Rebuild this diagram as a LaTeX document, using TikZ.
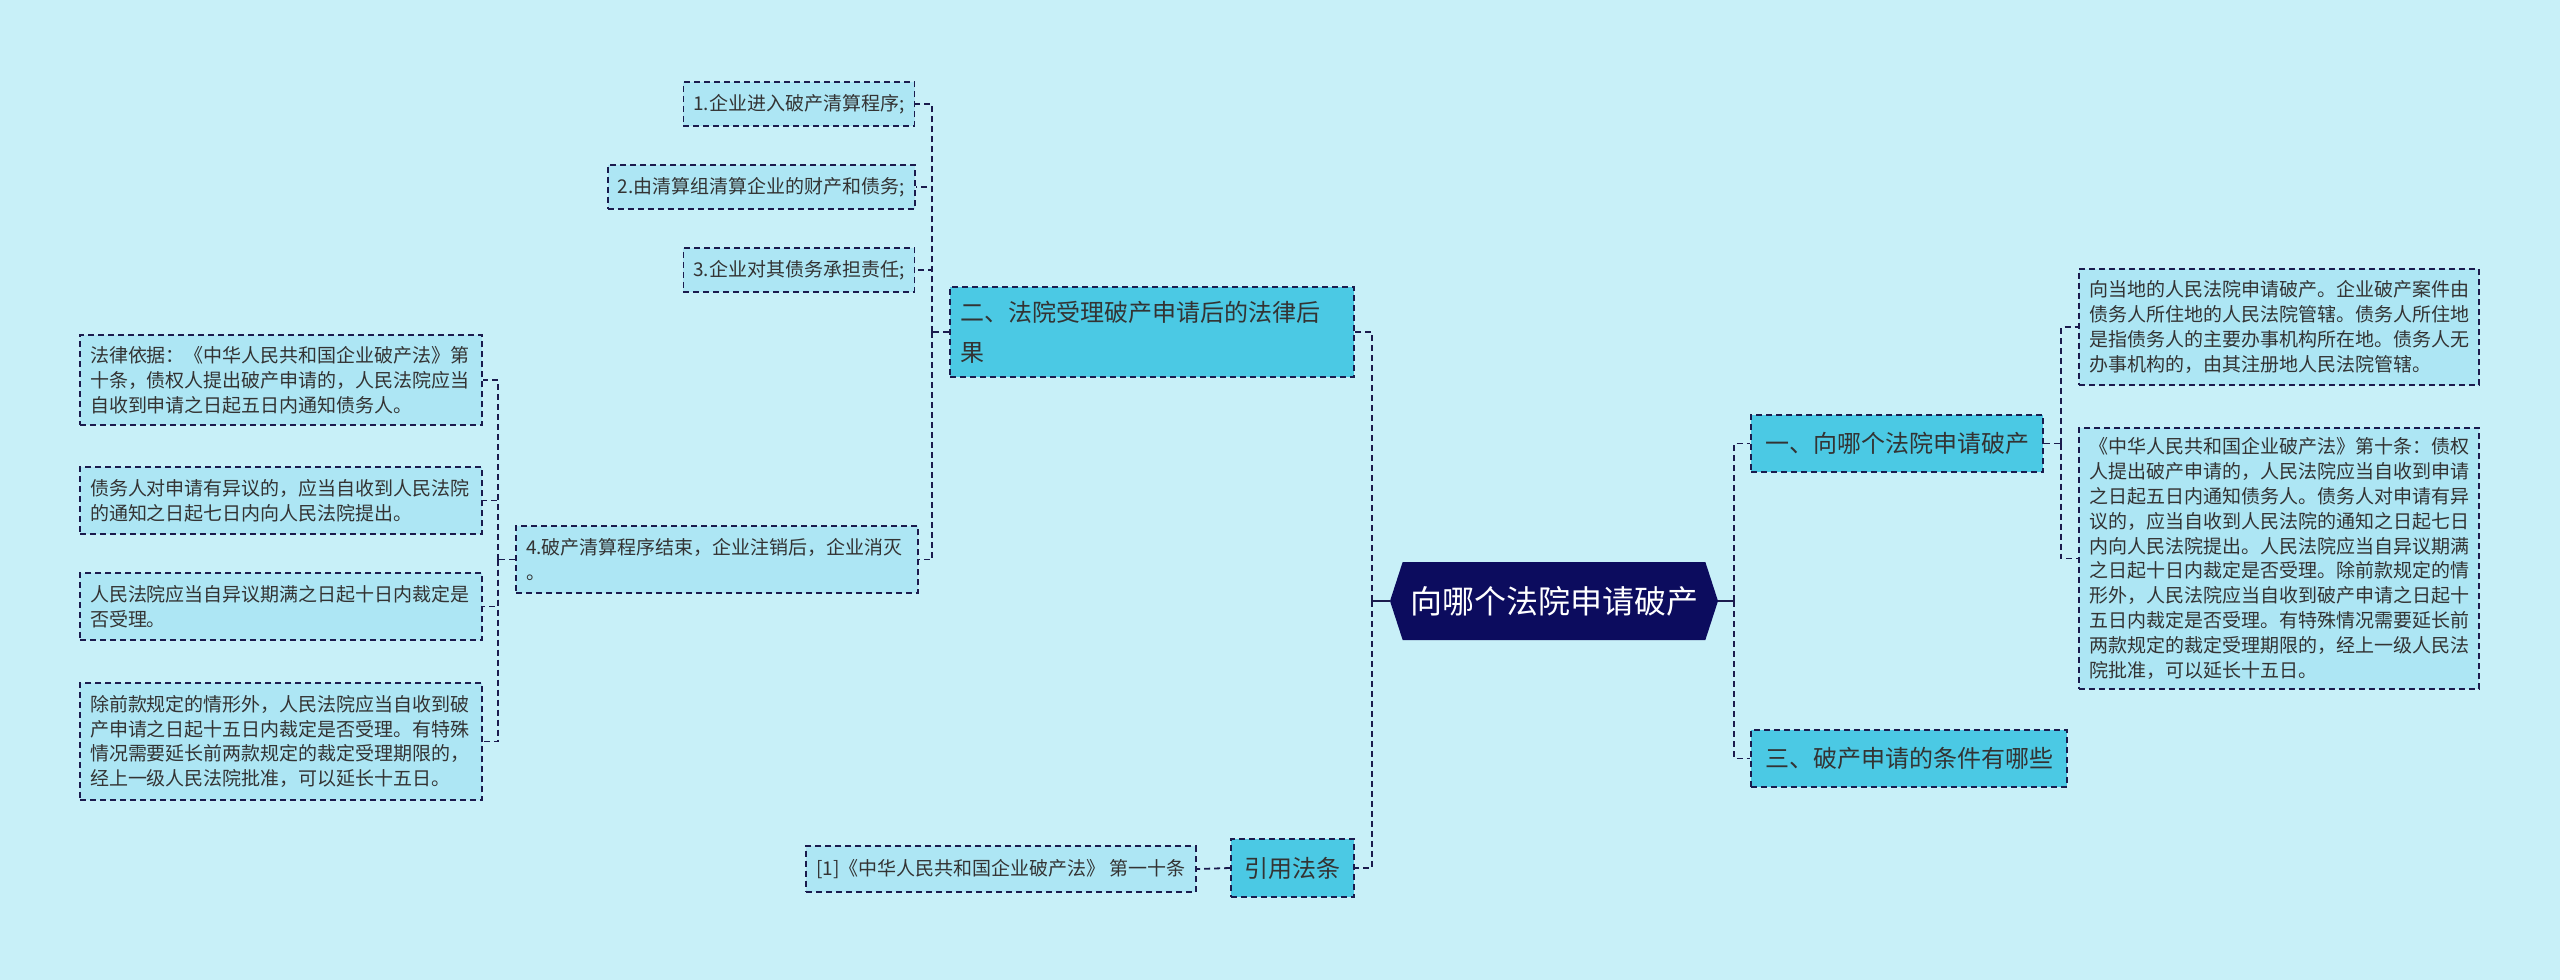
\documentclass[tikz,border=0pt]{standalone}
\usepackage{fontspec}
\newfontfamily\cjk{Noto Sans CJK SC}
\usetikzlibrary{shapes.symbols}
\definecolor{bgcyan}{HTML}{C8F0F8}
\definecolor{leafcyan}{HTML}{ADE6F4}
\definecolor{topiccyan}{HTML}{4BC9E4}
\definecolor{rootnavy}{HTML}{0C0C5E}
\definecolor{linknavy}{HTML}{1B1B4D}
\definecolor{txtgray}{HTML}{333333}

\begin{document}
\begin{tikzpicture}[x=0.5pt, y=-0.5pt,
  box/.style={draw=linknavy, line width=0.9pt, dash pattern=on 3pt off 2pt,
    inner xsep=5pt, inner ysep=0pt, align=left},
  leaf/.style={box, fill=leafcyan, text=txtgray,
    font=\cjk\fontsize{9.5}{12.4}\selectfont},
  topic/.style={box, fill=topiccyan, text=black!80,
    font=\cjk\fontsize{12}{20}\selectfont},
  root/.style={signal, signal to=west and east, signal pointer angle=144,
    fill=rootnavy, text=white, font=\cjk\fontsize{16}{20}\selectfont,
    minimum width=164pt, minimum height=39pt, inner xsep=2pt},
  link/.style={draw=linknavy, line width=0.9pt, dash pattern=on 3pt off 2pt},
  stub/.style={draw=linknavy, line width=1.1pt}
]
  \fill[bgcyan] (0,0) rectangle (2560,980);
  \useasboundingbox (0,0) rectangle (2560,980);

  % centre
  \node[root] (root) at (1554,601) {向哪个法院申请破产};

  % left side
  \node[topic, minimum width=202pt, minimum height=45pt, text width=192pt]
    (fx) at (1152,332) {二、法院受理破产申请后的法律后\\果};
  \node[topic, minimum width=61.5pt, minimum height=29pt]
    (yy) at (1292.5,868) {引用法条};
  \node[leaf, minimum width=194pt, minimum height=23pt]
    (ref) at (1001,869) {[1]《中华人民共和国企业破产法》 第一十条};

  \node[leaf, minimum width=115pt, minimum height=22pt]
    (s1) at (799,104) {1.企业进入破产清算程序;};
  \node[leaf, minimum width=152.5pt, minimum height=22pt]
    (s2) at (761.5,187) {2.由清算组清算企业的财产和债务;};
  \node[leaf, minimum width=115pt, minimum height=22pt]
    (s3) at (799,270) {3.企业对其债务承担责任;};
  \node[leaf, minimum width=201pt, minimum height=33.5pt, text width=191pt]
    (s4) at (717,559.5) {4.破产清算程序结束，企业注销后，企业消灭\\。};

  \node[leaf, minimum width=201pt, minimum height=45pt, text width=191pt]
    (j1) at (281,380) {法律依据：《中华人民共和国企业破产法》第\\十条，债权人提出破产申请的，人民法院应当\\自收到申请之日起五日内通知债务人。};
  \node[leaf, minimum width=201pt, minimum height=33.5pt, text width=191pt]
    (j2) at (281,500.5) {债务人对申请有异议的，应当自收到人民法院\\的通知之日起七日内向人民法院提出。};
  \node[leaf, minimum width=201pt, minimum height=33.5pt, text width=191pt]
    (j3) at (281,606.5) {人民法院应当自异议期满之日起十日内裁定是\\否受理。};
  \node[leaf, minimum width=201pt, minimum height=58.5pt, text width=191pt]
    (j4) at (281,741.5) {除前款规定的情形外，人民法院应当自收到破\\产申请之日起十五日内裁定是否受理。有特殊\\情况需要延长前两款规定的裁定受理期限的，\\经上一级人民法院批准，可以延长十五日。};

  % right side
  \node[topic, minimum width=146pt, minimum height=28.5pt]
    (yi) at (1897,443.5) {一、向哪个法院申请破产};
  \node[topic, minimum width=158pt, minimum height=28.5pt]
    (san) at (1909,758.5) {三、破产申请的条件有哪些};
  \node[leaf, minimum width=200pt, minimum height=58pt, text width=190pt]
    (r1) at (2279,327) {向当地的人民法院申请破产。企业破产案件由\\债务人所住地的人民法院管辖。债务人所住地\\是指债务人的主要办事机构所在地。债务人无\\办事机构的，由其注册地人民法院管辖。};
  \node[leaf, minimum width=200pt, minimum height=130.5pt, text width=190pt]
    (r2) at (2279,558.5) {《中华人民共和国企业破产法》第十条：债权\\人提出破产申请的，人民法院应当自收到申请\\之日起五日内通知债务人。债务人对申请有异\\议的，应当自收到人民法院的通知之日起七日\\内向人民法院提出。人民法院应当自异议期满\\之日起十日内裁定是否受理。除前款规定的情\\形外，人民法院应当自收到破产申请之日起十\\五日内裁定是否受理。有特殊情况需要延长前\\两款规定的裁定受理期限的，经上一级人民法\\院批准，可以延长十五日。};

  % spines
  \coordinate (lsp) at (1372,601);
  \coordinate (rsp) at (1734,601);
  \coordinate (fsp) at (932,332);
  \coordinate (ssp) at (498,559.5);
  \coordinate (ysp) at (2061,443.5);

  \draw[stub] (root.west) -- (lsp);
  \draw[stub] (root.east) -- (rsp);
  \foreach \n in {fx,yy}
    \draw[link] (lsp) |- (\n.east);
  \foreach \n in {yi,san}
    \draw[link] (rsp) |- (\n.west);
  \draw[link] (fx.west) -- (fsp);
  \foreach \n in {s1,s2,s3,s4}
    \draw[link] (fsp) |- (\n.east);
  \draw[link] (s4.west) -- (ssp);
  \foreach \n in {j1,j2,j3,j4}
    \draw[link] (ssp) |- (\n.east);
  \draw[link] (yi.east) -- (ysp);
  \foreach \n in {r1,r2}
    \draw[link] (ysp) |- (\n.west);
  \draw[link] (yy.west) -- (ref.east);
\end{tikzpicture}
\end{document}
